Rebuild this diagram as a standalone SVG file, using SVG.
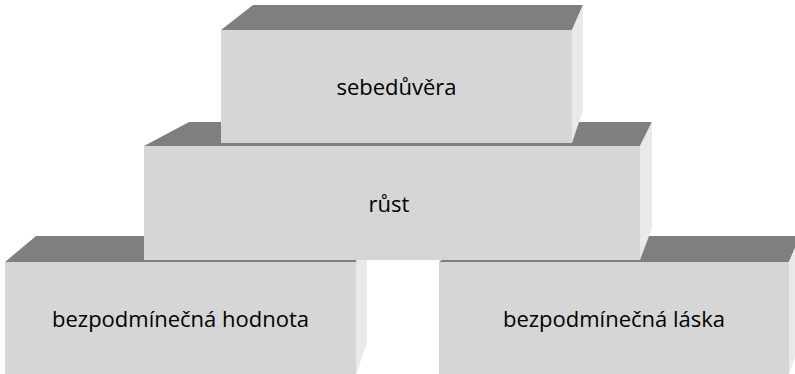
<svg xmlns="http://www.w3.org/2000/svg" width="795" height="374" viewBox="0 0 795 374">
<style>
.top{fill:#7f7f7f}
.front{fill:#d6d6d6}
.side{fill:#e9e9e9}
.lbl{font-family:"Open Sans","Noto Sans","Liberation Sans",sans-serif;font-size:22px;fill:#000;text-anchor:middle}
</style>
<rect width="795" height="374" fill="#ffffff"/>
<g id="block-hodnota">
<polygon class="top" points="5,262 36,236 367,236 356,262"/>
<polygon class="side" points="356,262 367,236 367,343 356,374"/>
<rect class="front" x="5" y="262" width="351" height="112"/>
<text class="lbl" x="180.5" y="327">bezpodmínečná hodnota</text>
</g>
<g id="block-laska">
<polygon class="top" points="439,262 470,236 800,236 789,262"/>
<polygon class="side" points="789,262 800,236 800,343 789,374"/>
<rect class="front" x="439" y="262" width="350" height="112"/>
<text class="lbl" x="614" y="327">bezpodmínečná láska</text>
</g>
<g id="block-rust">
<polygon class="top" points="144,146 189,122 652,122 640,146"/>
<polygon class="side" points="640,146 652,122 652,228 640,260"/>
<rect class="front" x="144" y="146" width="496" height="114"/>
<text class="lbl" x="389" y="212">růst</text>
</g>
<g id="block-sebeduvera">
<polygon class="top" points="221,30 253,5 583,5 572,30"/>
<polygon class="side" points="572,30 583,5 583,110 572,143"/>
<rect class="front" x="221" y="30" width="351" height="113"/>
<text class="lbl" x="396.5" y="95">sebedůvěra</text>
</g>
<g id="connectors"/>
</svg>
